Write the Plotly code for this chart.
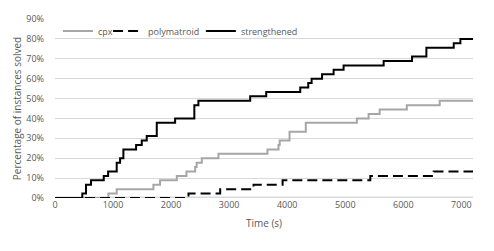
import plotly.graph_objects as go

N_INSTANCES = 45
T_END = 7200

cpx_t = [0, 920, 1063, 1695, 1810, 2098, 2265, 2414, 2440, 2529, 2816, 3660, 3850, 3870, 4040, 4320, 5200, 5402, 5592, 6060, 6626]
cpx_n = [0, 1, 2, 3, 4, 5, 6, 7, 8, 9, 10, 11, 12, 13, 15, 17, 18, 19, 20, 21, 22]

poly_t = [0, 2299, 2845, 3420, 3920, 5431, 6522]
poly_n = [0, 1, 2, 3, 4, 5, 6]

str_t = [0, 470, 534, 620, 840, 915, 1063, 1121, 1178, 1397, 1494, 1580, 1753, 2069, 2400, 2470,
         3362, 3638, 4224, 4362, 4420, 4600, 4799, 4971, 5661, 6150, 6397, 6868, 6983]
str_n = [0, 1, 3, 4, 5, 6, 8, 9, 11, 12, 13, 14, 17, 18, 21, 22,
         23, 24, 25, 26, 27, 28, 29, 30, 31, 32, 34, 35, 36]

x_ticks = [0, 1000, 2000, 3000, 4000, 5000, 6000, 7000]
y_ticks = [0, 0.1, 0.2, 0.3, 0.4, 0.5, 0.6, 0.7, 0.8, 0.9]
y_labels = ["0%", "10%", "20%", "30%", "40%", "50%", "60%", "70%", "80%", "90%"]


def series(ts, ns):
    xs = list(ts) + [T_END]
    ys = [n / N_INSTANCES for n in ns] + [ns[-1] / N_INSTANCES]
    return xs, ys


fig = go.Figure()
x, y = series(cpx_t, cpx_n)
fig.add_trace(go.Scatter(x=x, y=y, mode="lines", name="cpx", legend="legend",
                         line=dict(color="#a6a6a6", width=2, shape="hv")))
x, y = series(poly_t, poly_n)
fig.add_trace(go.Scatter(x=x, y=y, mode="lines", name="polymatroid", legend="legend2",
                         line=dict(color="#000000", width=2, shape="hv", dash="10px,5px")))
x, y = series(str_t, str_n)
fig.add_trace(go.Scatter(x=x, y=y, mode="lines", name="strengthened", legend="legend3",
                         line=dict(color="#000000", width=2, shape="hv")))

font = "Open Sans, Liberation Sans, sans-serif"
leg_common = dict(orientation="h", y=0.933, xanchor="left", yanchor="middle",
                  bgcolor="rgba(255,255,255,0)", font=dict(size=9, color="#595959"),
                  itemwidth=30)
fig.update_layout(
    width=494, height=251,
    margin=dict(l=55, r=21, t=19, b=53),
    paper_bgcolor="white", plot_bgcolor="white",
    font=dict(family=font, size=9, color="#595959"),
    showlegend=True,
    legend=dict(x=0.007, **leg_common),
    legend2=dict(x=0.127, **leg_common),
    legend3=dict(x=0.349, **leg_common),
    xaxis=dict(range=[0, T_END], tickvals=x_ticks, ticktext=[str(v) for v in x_ticks],
               showgrid=False, zeroline=False, showline=False, ticks="", automargin=True,
               title=dict(text="Time (s)", font=dict(size=10, color="#595959"), standoff=9)),
    yaxis=dict(range=[0, 0.9], tickvals=y_ticks, ticktext=y_labels, automargin=False,
               showgrid=True, gridcolor="#d9d9d9", gridwidth=1, zeroline=False, showline=False,
               ticks="", ticklabelstandoff=10,
               title=dict(text="Percentage of instances solved", font=dict(size=10, color="#595959"), standoff=2)),
)
fig.add_shape(type="line", xref="paper", yref="y", x0=0, x1=1, y0=0, y1=0,
              line=dict(color="#d9d9d9", width=3), layer="below")
fig.write_html("out.html", config={"displayModeBar": False},
               post_script="document.body.style.margin='0';")
